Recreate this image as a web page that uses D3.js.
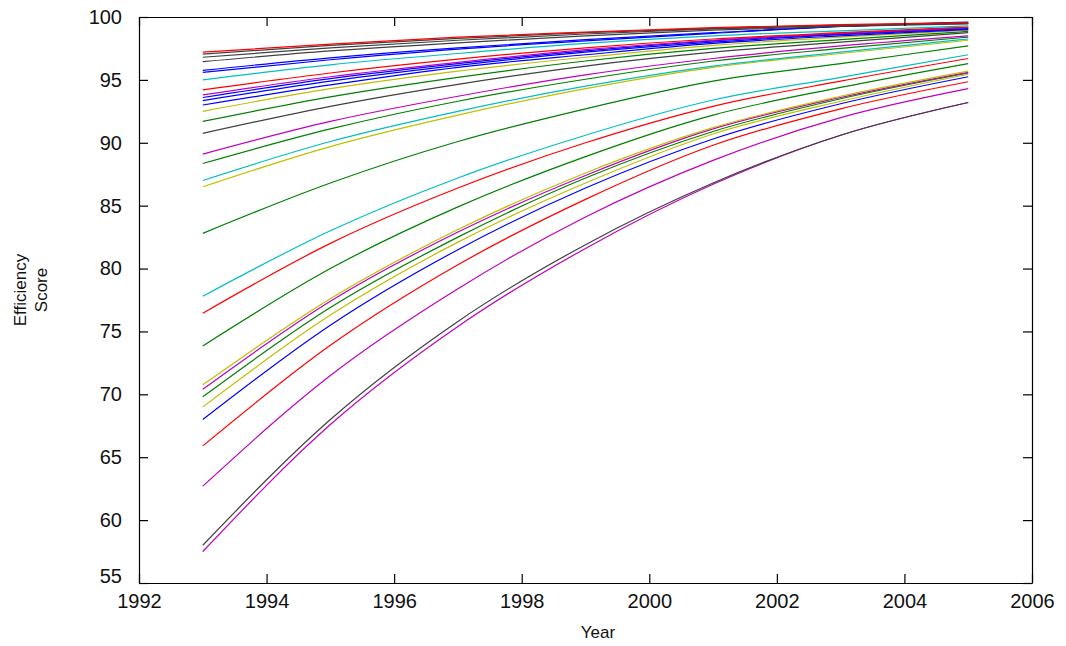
<!DOCTYPE html>
<html>
<head>
<meta charset="utf-8">
<script src="https://cdn.jsdelivr.net/npm/d3@7"></script>
<style>
body { margin: 0; background: #fff; }
svg { display: block; }
.axis text { font-family: "Liberation Sans", Arial, sans-serif; font-size: 20px; fill: #111; }
.axis path, .axis line { stroke: #000; stroke-width: 1.2; }
.label { font-family: "Liberation Sans", Arial, sans-serif; font-size: 17px; fill: #111; }
</style>
</head>
<body>
<svg id="chart"></svg>
<script>
var screen = {width: 1066, height: 646};
var margins = {top: 17, right: 34, bottom: 63, left: 139};

// years the values were read at
var years = [1993, 1995, 1997, 1999, 2001, 2003, 2005];
var xTicks = [1992, 1994, 1996, 1998, 2000, 2002, 2004, 2006];
var yTicks = [55, 60, 65, 70, 75, 80, 85, 90, 95, 100];

// efficiency scores, one array per unit, bottom to top
var unit01 = [57.5, 67.6, 75.4, 81.6, 86.7, 90.6, 93.2];
var unit02 = [58.0, 68.0, 75.8, 81.9, 86.8, 90.6, 93.2];
var unit03 = [62.7, 71.5, 78.4, 84.1, 88.6, 92.0, 94.3];
var unit04 = [65.9, 73.9, 80.3, 85.5, 89.8, 92.7, 94.85];
var unit05 = [68.0, 75.5, 81.5, 86.4, 90.3, 93.1, 95.25];
var unit06 = [69.0, 76.3, 82.1, 86.8, 90.7, 93.3, 95.45];
var unit07 = [69.8, 76.9, 82.5, 87.2, 90.9, 93.5, 95.55];
var unit08 = [70.4, 77.4, 82.9, 87.4, 91.1, 93.6, 95.6];
var unit09 = [70.75, 77.6, 83.1, 87.6, 91.2, 93.7, 95.7];
var unit10 = [73.85, 80.0, 84.9, 88.9, 92.2, 94.4, 96.3];
var unit11 = [76.45, 82.0, 86.4, 90.0, 92.9, 94.9, 96.7];
var unit12 = [77.8, 83.0, 87.2, 90.6, 93.4, 95.2, 97.0];
var unit13 = [82.8, 86.8, 90.1, 92.7, 94.9, 96.3, 97.7];
var unit14 = [86.5, 89.7, 92.2, 94.3, 96.0, 97.1, 98.15];
var unit15 = [87.0, 90.1, 92.5, 94.5, 96.1, 97.2, 98.25];
var unit16 = [88.35, 91.1, 93.3, 95.05, 96.5, 97.5, 98.4];
var unit17 = [89.1, 91.7, 93.7, 95.4, 96.7, 97.7, 98.5];
var unit18 = [90.75, 92.9, 94.65, 96.1, 97.2, 98.0, 98.75];
var unit19 = [91.7, 93.65, 95.2, 96.5, 97.5, 98.2, 98.85];
var unit20 = [92.5, 94.3, 95.7, 96.8, 97.75, 98.4, 98.95];
var unit21 = [93.0, 94.6, 96.0, 97.0, 97.9, 98.5, 99.0];
var unit22 = [93.35, 94.9, 96.15, 97.2, 98.0, 98.6, 99.05];
var unit23 = [93.6, 95.1, 96.3, 97.3, 98.1, 98.65, 99.1];
var unit24 = [93.8, 95.25, 96.4, 97.4, 98.15, 98.7, 99.15];
var unit25 = [94.2, 95.55, 96.65, 97.55, 98.25, 98.75, 99.2];
var unit26 = [95.0, 96.2, 97.1, 97.9, 98.5, 98.9, 99.3];
var unit27 = [95.6, 96.6, 97.45, 98.1, 98.7, 99.25, 99.6];
var unit28 = [95.75, 96.75, 97.55, 98.2, 98.75, 99.25, 99.55];
var unit29 = [96.45, 97.3, 97.95, 98.5, 98.95, 99.25, 99.45];
var unit30 = [96.8, 97.55, 98.15, 98.65, 99.05, 99.3, 99.5];
var unit31 = [97.05, 97.75, 98.3, 98.75, 99.1, 99.35, 99.5];
var unit32 = [97.2, 97.85, 98.4, 98.8, 99.15, 99.4, 99.55];

var units = [unit01, unit02, unit03, unit04, unit05, unit06, unit07, unit08,
             unit09, unit10, unit11, unit12, unit13, unit14, unit15, unit16,
             unit17, unit18, unit19, unit20, unit21, unit22, unit23, unit24,
             unit25, unit26, unit27, unit28, unit29, unit30, unit31, unit32];

// matlab style colour letters for each unit
var unitColors = ["m","k","m","r","b","y","g","m","y","g","r","c","g","y","c","g",
                  "m","k","g","y","b","b","b","m","r","c","b","b","k","k","k","r"];

var palette = {b: "#0000ff", g: "#008000", r: "#ff0000", c: "#00bfbf",
               m: "#bf00bf", y: "#bfbf00", k: "#404040"};

var setup = function()
{
    var svg = d3.select("#chart")
        .attr("width", screen.width)
        .attr("height", screen.height);

    var width = screen.width - margins.left - margins.right;
    var height = screen.height - margins.top - margins.bottom;

    var xScale = d3.scaleLinear()
                    .domain([1992, 2006])
                    .range([0, width]);

    var yScale = d3.scaleLinear()
                    .domain([55, 100])
                    .range([height, 0]);

    var plot = svg.append("g")
        .attr("transform", "translate(" + margins.left + "," + margins.top + ")");

    var line = d3.line()
        .curve(d3.curveMonotoneX)
        .x(function(d, i) { return xScale(years[i]); })
        .y(function(d) { return yScale(d); });

    plot.selectAll(".unit")
        .data(units)
        .enter()
        .append("path")
        .attr("class", "unit")
        .attr("fill", "none")
        .attr("stroke", function(d, i) { return palette[unitColors[i]]; })
        .attr("stroke-width", 1.2)
        .attr("d", line);

    // box with ticks pointing inward on all four sides
    plot.append("g")
        .attr("class", "axis")
        .attr("transform", "translate(0," + height + ")")
        .call(d3.axisBottom(xScale).tickValues(xTicks).tickFormat(d3.format("d"))
              .tickSizeInner(-9).tickSizeOuter(0).tickPadding(11));

    plot.append("g")
        .attr("class", "axis")
        .call(d3.axisTop(xScale).tickValues(xTicks).tickFormat("")
              .tickSizeInner(-9).tickSizeOuter(0));

    var yAxis = plot.append("g")
        .attr("class", "axis")
        .call(d3.axisLeft(yScale).tickValues(yTicks)
              .tickSizeInner(-9).tickSizeOuter(0).tickPadding(17));

    // lowest label sits a little above its tick, clear of the year labels
    yAxis.selectAll(".tick text")
        .filter(function(d) { return d === 55; })
        .attr("dy", "-0.05em");

    plot.append("g")
        .attr("class", "axis")
        .attr("transform", "translate(" + width + ",0)")
        .call(d3.axisRight(yScale).tickValues(yTicks).tickFormat("")
              .tickSizeInner(-9).tickSizeOuter(0));

    svg.append("text")
        .attr("class", "label")
        .attr("x", 598)
        .attr("y", 638)
        .attr("text-anchor", "middle")
        .text("Year");

    var ylab = svg.append("text")
        .attr("class", "label")
        .attr("text-anchor", "middle")
        .attr("transform", "translate(26,290) rotate(-90)");
    ylab.append("tspan").attr("x", 0).attr("dy", 0).text("Efficiency");
    ylab.append("tspan").attr("x", 0).attr("dy", 21).text("Score");
}

setup();
</script>
</body>
</html>
